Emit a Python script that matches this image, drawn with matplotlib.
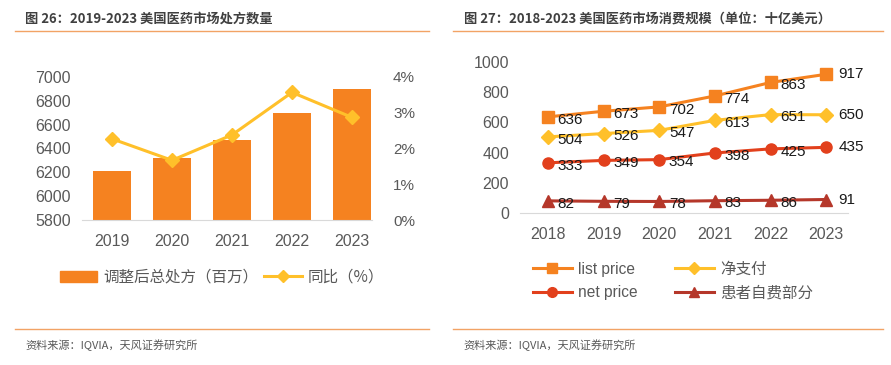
import matplotlib.pyplot as plt
from matplotlib.lines import Line2D
from matplotlib.patches import Patch

plt.rcParams['font.family'] = ['Liberation Sans', 'Noto Sans CJK SC', 'DejaVu Sans']

# left chart: prescriptions
years_l = ['2019', '2020', '2021', '2022', '2023']
rx_volume = [6212, 6321, 6470, 6700, 6900]
rx_growth = [2.27, 1.67, 2.38, 3.57, 2.87]

# right chart: spending
years_r = ['2018', '2019', '2020', '2021', '2022', '2023']
list_price = [636, 673, 702, 774, 863, 917]
net_pay = [504, 526, 547, 613, 651, 650]
net_price = [333, 349, 354, 398, 425, 435]
out_of_pocket = [82, 79, 78, 83, 86, 91]

W, H = 891, 365
fig = plt.figure(figsize=(W / 100, H / 100), dpi=100)

grey = '#595959'
rule = '#F2A365'
orange = '#F58220'
yellow = '#FFC02A'
red = '#E2401C'
darkred = '#B5372A'
cjk = ['Noto Sans CJK SC', 'DejaVu Sans']


def px_axes(x0, x1, ytop, ybot):
    return fig.add_axes([x0 / W, 1 - ybot / H, (x1 - x0) / W, (ybot - ytop) / H])


def hline(x0, x1, y):
    fig.add_artist(Line2D([x0 / W, x1 / W], [1 - y / H, 1 - y / H], color=rule, lw=1))


# frame texts and rules
fig.text(25 / W, 1 - 19 / H, '图 26：2019-2023 美国医药市场处方数量', fontsize=9.5,
         fontweight='bold', color='#404040', va='center', family=cjk)
fig.text(464 / W, 1 - 19 / H, '图 27：2018-2023 美国医药市场消费规模（单位：十亿美元）', fontsize=9.5,
         fontweight='bold', color='#404040', va='center', family=cjk)
for x0, x1 in [(15, 429), (453, 883)]:
    hline(x0, x1, 31)
    hline(x0, x1, 329)
fig.text(25 / W, 1 - 345 / H, '资料来源：IQVIA，天风证券研究所', fontsize=8, color=grey, va='center', family=cjk)
fig.text(463 / W, 1 - 345 / H, '资料来源：IQVIA，天风证券研究所', fontsize=8, color=grey, va='center', family=cjk)

# ---- left chart
ax = px_axes(82, 382, 77, 220)
xs = range(len(years_l))
ax.bar(xs, rx_volume, width=0.64, color=orange, zorder=2)
ax.set_ylim(5800, 7000)
ax.set_yticks(range(5800, 7001, 200))
ax.set_xlim(-0.5, 4.5)
ax.set_xticks(list(xs))
ax.set_xticklabels(years_l)
for s in ['top', 'right', 'left']:
    ax.spines[s].set_visible(False)
ax.spines['bottom'].set_color('#D9D9D9')
ax.spines['bottom'].set_bounds(-0.5, 4.33)
ax.tick_params(length=0, labelsize=11.5, colors=grey)
ax.tick_params(axis='x', pad=10)
ax.tick_params(axis='y', pad=8)

ax2 = ax.twinx()
ax2.plot(xs, rx_growth, color=yellow, lw=2.2, marker='D', ms=7, zorder=3)
ax2.set_ylim(0, 4)
ax2.set_yticks([0, 1, 2, 3, 4])
ax2.set_yticklabels([f'{v}%' for v in range(5)])
for s in ax2.spines.values():
    s.set_visible(False)
ax2.tick_params(length=0, labelsize=11, colors=grey, pad=8)

h1 = [Patch(color=orange), Line2D([], [], color=yellow, lw=2.2, marker='D', ms=6)]
fig.legend(h1, ['调整后总处方（百万）', '同比（%）'], loc='center', bbox_to_anchor=(222 / W, 1 - 277 / H),
           ncol=2, frameon=False, handlelength=2.4, handletextpad=0.4,
           columnspacing=0.4, labelcolor=grey, prop={'family': cjk, 'size': 11.2})

# ---- right chart
bx = px_axes(520, 854, 61.7, 213.3)
xr = list(range(len(years_r)))
series = [
    (list_price, orange, 's', 'list price'),
    (net_pay, yellow, 'D', '净支付'),
    (net_price, red, 'o', 'net price'),
    (out_of_pocket, darkred, '^', '患者自费部分'),
]
lines = {}
for vals, col, mk, name in series:
    ms = 7 if mk == 'D' else 8
    ln, = bx.plot(xr, vals, color=col, lw=2.2, marker=mk, ms=ms, zorder=3)
    lines[name] = ln
    for i, v in enumerate(vals):
        dx = 9 if i == len(vals) - 1 else 7
        dy = 0 if i == len(vals) - 1 else -2
        bx.annotate(str(v), (i, v), xytext=(dx, dy), textcoords='offset points',
                    ha='left', va='center', fontsize=11, color='#1a1a1a', zorder=4)
bx.set_ylim(0, 1000)
bx.set_yticks(range(0, 1001, 200))
bx.set_xlim(-0.5, 5.5)
bx.set_xticks(xr)
bx.set_xticklabels(years_r)
for s in ['top', 'right', 'left']:
    bx.spines[s].set_visible(False)
bx.spines['bottom'].set_color('#D9D9D9')
bx.spines['bottom'].set_bounds(-0.5, 5.4)
bx.tick_params(length=0, labelsize=11.5, colors=grey)
bx.tick_params(axis='x', pad=10)
bx.tick_params(axis='y', pad=8)

order = ['list price', 'net price', '净支付', '患者自费部分']
handles = []
for n in order:
    ln = lines[n]
    handles.append(Line2D([], [], color=ln.get_color(), lw=2.2, marker=ln.get_marker(),
                          ms=ln.get_markersize() - 1))
fig.legend(handles, order, loc='center', bbox_to_anchor=(673 / W, 1 - 281 / H),
           ncol=2, frameon=False, handlelength=2.5, handletextpad=0.4, columnspacing=2.4,
           labelspacing=0.55, labelcolor=grey, prop={'family': ['Liberation Sans', 'Noto Sans CJK SC'], 'size': 11.2})

fig.savefig('out.png', dpi=100)
